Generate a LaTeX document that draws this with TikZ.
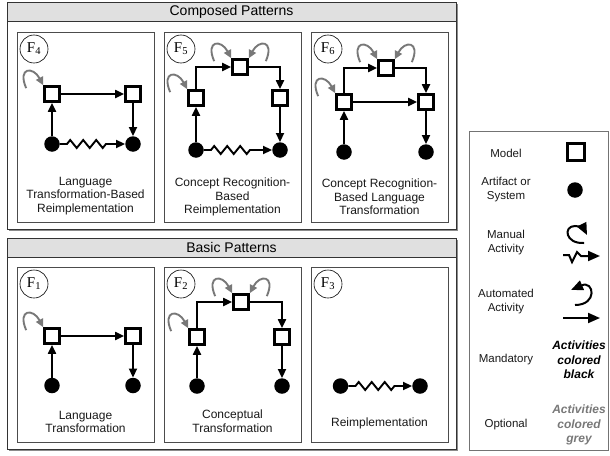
\documentclass[tikz,border=0pt]{standalone}
\usepackage{fontspec}
\setmainfont{Liberation Sans}
\newfontfamily\idfont{Liberation Serif}
\usepackage{tikz}
\usetikzlibrary{
  arrows.meta
  , decorations.pathmorphing
  % for the box shadows
  , shadows
}

\begin{document}
\begin{tikzpicture}[
    x=1pt, y=-1pt
    , font=\fontsize{12}{13.5}\selectfont
  ]
  \definecolor{optgrey}{gray}{0.47}
  \newcommand\idF[1]{{\idfont F}\textsubscript{\idfont #1}}
  \newcommand\hookWest[1]{
    \draw [optional loop] ([shift={(-17,3)}]#1.north west)
    .. controls +(-9,-21) and +(-10,-19) .. (#1.north west);
  }
  \newcommand\hookEast[1]{
    \draw [optional loop] ([shift={(17,3)}]#1.north east)
    .. controls +(9,-21) and +(10,-19) .. (#1.north east);
  }

  \tikzstyle{group box}=[draw=black!80, line width=0.9pt, fill=white, inner sep=0pt
    , drop shadow={shadow xshift=2pt, shadow yshift=-2pt, fill=black!45, opacity=1}];
  \tikzstyle{group head}=[draw=black!80, line width=0.9pt, fill=black!12, inner sep=0pt
    , minimum width=449pt, minimum height=19pt, font=\fontsize{14}{16}\selectfont];
  \tikzstyle{pattern box}=[draw=black!70, line width=0.8pt, fill=white, inner sep=0pt
    , minimum width=137pt
    , drop shadow={shadow xshift=1.2pt, shadow yshift=-1.2pt, fill=black!35, opacity=1}];
  \tikzstyle{pattern id}=[circle, draw=black, line width=0.6pt, fill=white
    , minimum size=28pt, inner sep=0pt, font=\fontsize{15}{15}\selectfont];
  \tikzstyle{model template}=[rectangle, draw=black, line width=2.7pt, fill=white
    , minimum size=15pt, inner sep=0pt];
  \tikzstyle{artifact template}=[circle, fill=black, minimum size=15.5pt, inner sep=0pt];
  \tikzstyle{activity}=[line width=1.9pt, -{Triangle[length=9pt,width=8pt]}];
  \tikzstyle{optional loop}=[line width=1.9pt, draw=optgrey
    , -{Triangle[length=8pt,width=7.5pt]}, color=optgrey];
  \tikzstyle{reimpl}=[activity, decorate
    , decoration={zigzag, segment length=13pt, amplitude=4pt
      , pre length=7pt, post length=16pt}];
  \tikzstyle{caption}=[align=center, text=black!90];
  \tikzstyle{legend text}=[align=center, text=black!90, font=\fontsize{11.5}{14}\selectfont];
  \tikzstyle{legend note}=[align=center, font=\fontsize{12}{14.5}\selectfont\bfseries\itshape];
  \tikzstyle{legend icon}=[line width=2pt, -{Triangle[length=12pt,width=10pt]}];

  \useasboundingbox (0,0) rectangle (610,455);

  % ------ Composed Patterns
  \node [group box, minimum width=449pt, minimum height=227pt] (composed) at (231.5,115.5) {};
  \node [group head] (composed_head) at (231.5,11.5) {Composed Patterns};

  \node [pattern box, minimum height=190pt] (F4) at (85.5,127) {};
  \node [pattern box, minimum height=190pt] (F5) at (232.5,127) {};
  \node [pattern box, minimum height=190pt] (F6) at (379.5,127) {};

  % F4
  \node [pattern id] (F4_id) at (34,49) {\idF{4}};
  \node [model template] (F4_m1) at (52,94) {};
  \node [model template] (F4_m2) at (133,94) {};
  \node [artifact template] (F4_a1) at (52,144) {};
  \node [artifact template] (F4_a2) at (133,144) {};
  \draw [activity] (F4_m1) -- (F4_m2);
  \draw [activity] (F4_a1) -- (F4_m1);
  \draw [activity] (F4_m2) -- (F4_a2);
  \draw [reimpl] (F4_a1) -- (F4_a2);
  \hookWest{F4_m1}
  \node [caption] (F4_text) at (85.5,196) {Language\\Transformation-Based\\Reimplementation};

  % F5
  \node [pattern id] (F5_id) at (181,49) {\idF{5}};
  \node [model template] (F5_m1) at (196,98) {};
  \node [model template] (F5_m2) at (240,67) {};
  \node [model template] (F5_m3) at (280,98) {};
  \node [artifact template] (F5_a1) at (196,150) {};
  \node [artifact template] (F5_a2) at (280,150) {};
  \draw [activity] (F5_m1.north) |- (F5_m2);
  \draw [activity] (F5_m2) -| (F5_m3);
  \draw [activity] (F5_a1) -- (F5_m1);
  \draw [activity] (F5_m3) -- (F5_a2);
  \draw [reimpl] (F5_a1) -- (F5_a2);
  \hookWest{F5_m1}
  \hookWest{F5_m2}
  \hookEast{F5_m2}
  \node [caption] (F5_text) at (232.5,197) {Concept Recognition-\\Based\\Reimplementation};

  % F6
  \node [pattern id] (F6_id) at (328,49) {\idF{6}};
  \node [model template] (F6_m1) at (344,102) {};
  \node [model template] (F6_m2) at (386,68) {};
  \node [model template] (F6_m3) at (426,102) {};
  \node [artifact template] (F6_a1) at (344,152) {};
  \node [artifact template] (F6_a2) at (426,152) {};
  \draw [activity] (F6_m1.north) |- (F6_m2);
  \draw [activity] (F6_m2) -| (F6_m3);
  \draw [activity] (F6_m1) -- (F6_m3);
  \draw [activity] (F6_a1) -- (F6_m1);
  \draw [activity] (F6_m3) -- (F6_a2);
  \hookWest{F6_m1}
  \hookWest{F6_m2}
  \hookEast{F6_m2}
  \node [caption] (F6_text) at (379.5,197) {Concept Recognition-\\Based Language\\Transformation};

  % ------ Basic Patterns
  \node [group box, minimum width=449pt, minimum height=211pt] (basic) at (231.5,343.5) {};
  \node [group head] (basic_head) at (231.5,247.5) {Basic Patterns};

  \node [pattern box, minimum height=175pt] (F1) at (85.5,354.5) {};
  \node [pattern box, minimum height=175pt] (F2) at (232.5,354.5) {};
  \node [pattern box, minimum height=175pt] (F3) at (379.5,354.5) {};

  % F1
  \node [pattern id] (F1_id) at (34,284) {\idF{1}};
  \node [model template] (F1_m1) at (52,336) {};
  \node [model template] (F1_m2) at (133,336) {};
  \node [artifact template] (F1_a1) at (52,385.5) {};
  \node [artifact template] (F1_a2) at (133,385.5) {};
  \draw [activity] (F1_m1) -- (F1_m2);
  \draw [activity] (F1_a1) -- (F1_m1);
  \draw [activity] (F1_m2) -- (F1_a2);
  \hookWest{F1_m1}
  \node [caption] (F1_text) at (85.5,422) {Language\\Transformation};

  % F2
  \node [pattern id] (F2_id) at (181,284) {\idF{2}};
  \node [model template] (F2_m1) at (197,337) {};
  \node [model template] (F2_m2) at (241,302) {};
  \node [model template] (F2_m3) at (282,337) {};
  \node [artifact template] (F2_a1) at (197,386) {};
  \node [artifact template] (F2_a2) at (282,386) {};
  \draw [activity] (F2_m1.north) |- (F2_m2);
  \draw [activity] (F2_m2) -| (F2_m3);
  \draw [activity] (F2_a1) -- (F2_m1);
  \draw [activity] (F2_m3) -- (F2_a2);
  \hookWest{F2_m1}
  \hookWest{F2_m2}
  \hookEast{F2_m2}
  \node [caption] (F2_text) at (232.5,421) {Conceptual\\Transformation};

  % F3
  \node [pattern id] (F3_id) at (328,284) {\idF{3}};
  \node [artifact template] (F3_a1) at (340.5,386) {};
  \node [artifact template] (F3_a2) at (420,386) {};
  \draw [reimpl] (F3_a1) -- (F3_a2);
  \node [caption] (F3_text) at (379.5,423) {Reimplementation};

  % ------ legend
  \node [draw=black!55, line width=0.8pt, minimum width=139pt, minimum height=319pt
    , inner sep=0pt] (legend) at (538.5,290.5) {};

  \node [legend text] (lg_model) at (506,153) {Model};
  \node [model template, minimum size=16.5pt] (lg_model_icon) at (576,152) {};
  \node [legend text] (lg_artifact) at (506,190) {Artifact or\\System};
  \node [artifact template] (lg_artifact_icon) at (575,190) {};

  \node [legend text] (lg_manual) at (506,243) {Manual\\Activity};
  \draw [legend icon] (584,243) .. controls (565,244) and (563,226) .. (575,226)
    .. controls (580,226) and (584,229) .. (587,235);
  \draw [legend icon] (563,255) -- (569,255) -- (572,262) -- (577,252) -- (581,256) -- (600,256);

  \node [legend text] (lg_auto) at (506,302) {Automated\\Activity};
  \draw [legend icon] (575,305) .. controls (598,305) and (594,280) .. (571,290);
  \draw [legend icon] (563,318) -- (600,318);

  \node [legend text] (lg_mand) at (506,360) {Mandatory};
  \node [legend note] (lg_black) at (579,360) {Activities\\colored\\black};
  \node [legend text] (lg_opt) at (506,425) {Optional};
  \node [legend note, text=optgrey] (lg_grey) at (579,425) {Activities\\colored\\grey};

\end{tikzpicture}
\end{document}
